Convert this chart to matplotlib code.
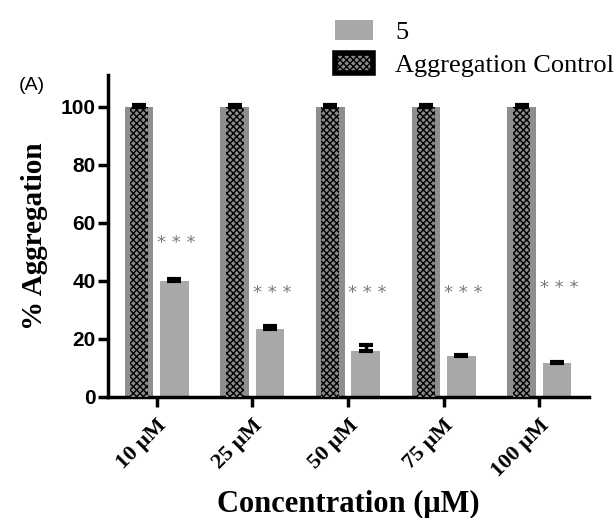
import matplotlib
matplotlib.use("Agg")
import matplotlib.pyplot as plt
from matplotlib.patches import Patch
import numpy as np

categories = ["10 \u03bcM", "25 \u03bcM", "50 \u03bcM", "75 \u03bcM", "100 \u03bcM"]
compound5 = [40.0, 23.4, 15.8, 14.0, 11.6]
compound5_err = [0.8, 1.0, 2.0, 0.6, 0.6]
control = [100, 100, 100, 100, 100]
control_err = [0.6, 0.6, 0.6, 0.6, 0.6]
stars_y = [53, 36, 36, 36, 37.5]
yticks = [0, 20, 40, 60, 80, 100]

fig = plt.figure(figsize=(6.15, 5.18), dpi=100)
ax = fig.add_axes([0.1756, 0.2336, 0.782, 0.6216])

x = np.arange(len(categories))
off = 0.185
w = 0.30

# control bars: grey frame with black checker inside
ax.bar(x - off, control, width=w, color="#8e8e8e", edgecolor="#8e8e8e", linewidth=0, zorder=2)
ax.bar(x - off, control, width=w * 0.62, color="#8a8a8a", edgecolor="black",
       linewidth=0, hatch="xxxxx", zorder=3)
ax.errorbar(x - off, control, yerr=[np.zeros(5), control_err], fmt="none",
            ecolor="black", elinewidth=2, capsize=5, capthick=3, zorder=4)

ax.bar(x + off, compound5, width=w, color="#a8a8a8", edgecolor="none", zorder=2)
ax.errorbar(x + off, compound5, yerr=[np.zeros(5), compound5_err], fmt="none",
            ecolor="black", elinewidth=2.5, capsize=5, capthick=3, zorder=4)

for xi, sy in zip(x, stars_y):
    ax.text(xi + off + 0.02, sy, "* * *", ha="center", va="center", fontsize=13,
            color="#7a7a7a", family="DejaVu Sans")

ax.set_xlim(-0.51, 4.52)
ax.set_ylim(0, 111)
ax.set_yticks(yticks)
ax.set_yticklabels([str(v) for v in yticks], fontsize=15, fontweight="bold",
                   family="Liberation Sans")
ax.set_xticks(x)
ax.set_xticklabels(categories, rotation=45, ha="right", rotation_mode="anchor",
                   fontsize=16, fontweight="bold", family="Liberation Serif")

for s in ["top", "right"]:
    ax.spines[s].set_visible(False)
for s in ["left", "bottom"]:
    ax.spines[s].set_linewidth(2.5)
ax.tick_params(axis="both", width=2.5, length=7, direction="out", pad=2)
ax.tick_params(axis="x", pad=6)

ax.set_ylabel("% Aggregation", fontsize=21, fontweight="bold",
              family="Liberation Serif", labelpad=9)
ax.set_xlabel("Concentration (\u03bcM)", fontsize=22, fontweight="bold",
              family="Liberation Serif", labelpad=7)

fig.text(0.030, 0.826, "(A)", fontsize=14, family="Liberation Sans")

handles = [Patch(facecolor="#a8a8a8", edgecolor="none"),
           Patch(facecolor="#8a8a8a", edgecolor="black", hatch="xxxxx", linewidth=4)]
leg = fig.legend(handles, ["5", "Aggregation Control"], loc="upper left",
                 bbox_to_anchor=(0.545, 0.962), frameon=False, borderpad=0,
                 borderaxespad=0,
                 prop={"family": "Liberation Serif", "size": 19},
                 handlelength=1.44, handleheight=0.8, labelspacing=0.33,
                 handletextpad=0.83)

fig.savefig("out.png", dpi=100)
